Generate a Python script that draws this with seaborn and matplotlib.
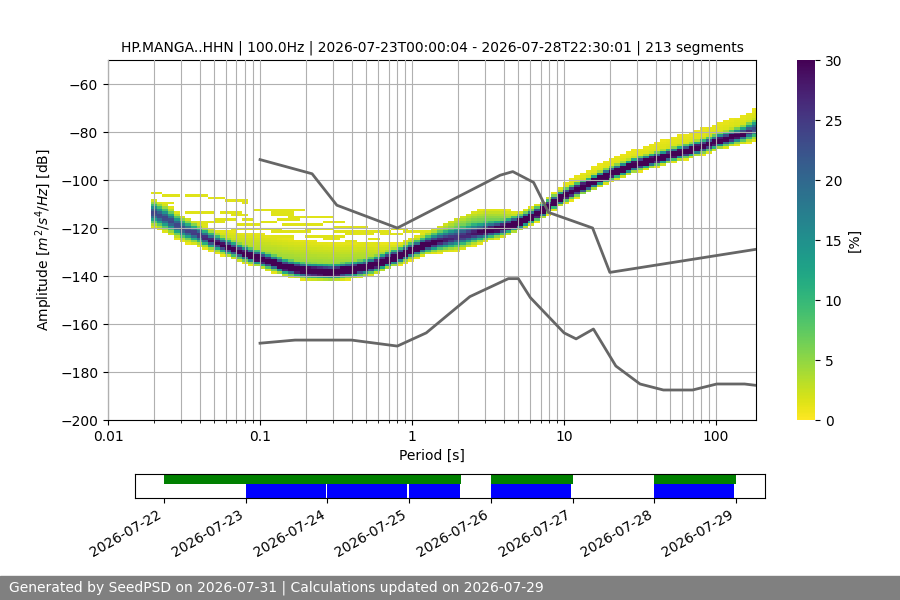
import numpy as np
import pandas as pd
import matplotlib
matplotlib.use("Agg")
import matplotlib.pyplot as plt
import matplotlib.dates as mdates
from matplotlib.ticker import FormatStrFormatter
import seaborn as sns

# ---------------- data ----------------
title = ("HP.MANGA..HHN | 100.0Hz | 2026-07-23T00:00:04 - "
         "2026-07-28T22:30:01 | 213 segments")
footer = "Generated by SeedPSD on 2026-07-31 | Calculations updated on 2026-07-29"

# PPSD histogram description (knots along period)
knot_period = [0.0195, 0.025, 0.03, 0.04, 0.05, 0.07, 0.1, 0.15, 0.2, 0.3,
               0.4, 0.5, 0.6, 0.8, 1.0, 1.2, 1.5, 2.0, 2.5, 3.0, 4.0, 5.0,
               6.2, 7.0, 9.0, 10.0, 15.0, 20.0, 30.0, 50.0, 70.0, 100.0,
               150.0, 185.0]
mode_db = [-113.5, -116.5, -120, -123, -126, -129.5, -133, -136.5, -138,
           -138.5, -137.5, -136.5, -135, -132, -129.5, -127.5, -125.7, -124,
           -122.5, -121.5, -120, -118, -115.3, -113.5, -108.5, -106.5,
           -101.5, -97.5, -93.5, -89.8, -87.5, -84.2, -81, -78.5]
peak_pct = [24, 24, 24, 26, 30, 34, 38, 40, 42, 42, 42, 42, 42, 42, 40, 36,
            30, 26, 28, 32, 38, 42, 45, 45, 48, 48, 48, 46, 46, 44, 42, 38,
            32, 22]
spread_lo = [2.4, 2.4, 2.2, 1.8, 1.6, 1.5, 1.4, 1.4, 1.4, 1.4, 1.4, 1.4, 1.4,
             1.4, 1.4, 1.5, 1.8, 2.2, 2.0, 1.7, 1.4, 1.3, 1.2, 1.2, 1.2, 1.2,
             1.2, 1.2, 1.2, 1.2, 1.2, 1.3, 1.5, 2.0]
spread_hi = [2.4, 2.4, 2.2, 2.0, 1.9, 1.8, 1.8, 1.8, 1.8, 1.8, 1.8, 1.8, 1.8,
             1.8, 1.8, 2.0, 2.4, 2.8, 2.8, 2.4, 1.9, 1.7, 1.5, 1.5, 1.4, 1.4,
             1.4, 1.4, 1.4, 1.4, 1.5, 1.6, 1.8, 2.2]
tail_top_db = [-112.5, -115.5, -117, -119, -120.5, -121.5, -122, -124,
               -125, -126, -126, -126, -126.5, -126.5, -124, -122, -119,
               -115.5, -113, -112, -112, -113.5, -113, -110.5, -104,
               -101, -95, -91.5, -87, -82.5, -80, -76.5, -73, -70]
tail_pct = [2, 2, 3, 4, 4, 5, 5, 6, 6, 6, 6, 6, 5, 5, 6, 9, 12, 13, 13, 12,
            10, 7, 4, 3, 2.5, 2.5, 2.5, 2.5, 2.5, 2.5, 2.5, 2.5, 3, 3]

# scattered low-occupancy streaks (period from, period to, dB)
streak_p0 = [0.0195, 0.0225, 0.032, 0.039, 0.045, 0.06, 0.02, 0.08, 0.02,
             0.032, 0.055, 0.062, 0.031, 0.075, 0.095, 0.12, 0.13, 0.18,
             0.1, 0.15, 0.22, 0.3, 0.25, 0.4, 0.35, 0.5, 0.45, 0.6, 0.8,
             0.12, 0.2, 1.0, 0.11, 0.12, 0.16, 0.1, 0.14, 0.26, 0.3, 0.2,
             0.45, 0.12, 0.35, 0.6, 0.7, 0.22, 0.9, 0.05, 0.07, 0.04, 0.065]
streak_p1 = [0.0225, 0.0298, 0.045, 0.045, 0.06, 0.086, 0.028, 0.086, 0.023,
             0.05, 0.074, 0.086, 0.045, 0.09, 0.13, 0.17, 0.19, 0.26, 0.14,
             0.21, 0.3, 0.42, 0.33, 0.55, 0.45, 0.62, 0.6, 0.75, 0.95,
             0.16, 0.28, 1.15, 0.2, 0.16, 0.3, 0.13, 0.25, 0.38, 0.5, 0.3,
             0.7, 0.2, 0.55, 0.9, 0.95, 0.35, 1.2, 0.07, 0.1, 0.06, 0.1]
streak_db = [-105.5, -106.5, -106.5, -106, -107.5, -108.5, -109.5, -109.5,
             -111.5, -113.5, -113.5, -114.5, -118, -116.5, -112.5, -113.5,
             -116.5, -118.5, -120.5, -121.5, -120.5, -121.5, -124.5, -122.5,
             -125.5, -124.5, -126.5, -121.5, -120.5, -123.5, -123.5, -121.5,
             -112.5, -114.5, -115.5, -117.5, -118.5, -117.5, -119.5, -120.5,
             -121.5, -121.5, -122.5, -122.5, -120.5, -123.5, -121.5,
             -116.5, -118.5, -117.5, -120.5]

# Peterson noise models
nhnm_period = [0.1, 0.22, 0.32, 0.8, 3.8, 4.6, 6.3, 7.9, 15.4, 20.0, 354.8]
nhnm_db = [-91.5, -97.4, -110.5, -120.0, -98.0, -96.5, -101.0, -113.5,
           -120.0, -138.5, -126.0]
nlnm_period = [0.1, 0.17, 0.4, 0.8, 1.24, 2.4, 4.3, 5.0, 6.0, 10.0, 12.0,
               15.6, 21.9, 31.6, 45.0, 70.0, 101.0, 154.0, 328.0]
nlnm_db = [-168.0, -166.7, -166.7, -169.2, -163.7, -148.6, -141.1, -141.1,
           -149.0, -163.7, -166.2, -162.1, -177.5, -185.0, -187.5, -187.5,
           -185.0, -185.0, -187.5]

# time coverage
green_start = ["2026-07-22 00:00", "2026-07-26 00:00", "2026-07-28 00:00"]
green_end = ["2026-07-25 15:15", "2026-07-27 00:00", "2026-07-29 00:00"]
blue_start = ["2026-07-23 00:00", "2026-07-24 00:00", "2026-07-25 00:00",
              "2026-07-26 00:00", "2026-07-28 00:00"]
blue_end = ["2026-07-23 23:30", "2026-07-24 23:30", "2026-07-25 15:00",
            "2026-07-26 23:30", "2026-07-28 23:30"]
timeline_lim = ["2026-07-21 15:30", "2026-07-29 08:30"]
timeline_ticks = ["2026-07-22", "2026-07-23", "2026-07-24", "2026-07-25",
                  "2026-07-26", "2026-07-27", "2026-07-28", "2026-07-29"]

# ---------------- build the histogram grid ----------------
n_cols = 106
centers = 0.02 * 2.0 ** (np.arange(n_cols) / 8.0)
edges_p = 0.02 * 2.0 ** ((np.arange(n_cols + 1) - 0.5) / 8.0)
db_edges = np.arange(-200, -49, 1.0)
db_c = db_edges[:-1] + 0.5

lk = np.log10(knot_period)
lc = np.log10(centers)
def at(arr):
    return np.interp(lc, lk, arr)
m, pk, slo, shi, top, tl = (at(mode_db), at(peak_pct), at(spread_lo),
                            at(spread_hi), at(tail_top_db), at(tail_pct))

hist = np.zeros((len(db_c), n_cols))
for j in range(n_cols):
    d = db_c - m[j]
    s = np.where(d > 0, shi[j], slo[j])
    core = pk[j] * np.exp(-0.5 * (d / s) ** 2)
    tail = np.zeros_like(core)
    span = max(top[j] - m[j], 0.5)
    inside = (d > 0) & (db_c <= top[j])
    tail[inside] = 1 + (tl[j] - 1) * (1 - d[inside] / span)
    hist[:, j] = np.maximum(core, tail)
for p0, p1, dbv in zip(streak_p0, streak_p1, streak_db):
    cols = (centers >= p0) & (centers <= p1)
    row = np.argmin(np.abs(db_c - dbv))
    hist[row, cols] = np.maximum(hist[row, cols], 1.5)
hist = np.ma.masked_less(hist, 0.8)

# ---------------- figure ----------------
fig = plt.figure(figsize=(9, 6), dpi=100)
ax = fig.add_axes([0.12, 0.30, 0.72, 0.60])
cax = fig.add_axes([0.8856, 0.30, 0.02, 0.60])
tax = fig.add_axes([0.15, 0.17, 0.70, 0.04])

cmap = plt.get_cmap("viridis_r").copy()
cmap.set_bad("white")
mesh = ax.pcolormesh(edges_p, db_edges, hist, cmap=cmap, vmin=0, vmax=30,
                     zorder=1)
ax.set_xscale("log")
ax.grid(True, which="major", color="#b0b0b0", lw=0.8, zorder=2)
ax.grid(True, which="minor", axis="x", color="#b0b0b0", lw=0.8, zorder=2)
ax.set_axisbelow(False)

nhnm = pd.DataFrame({"period": nhnm_period, "db": nhnm_db})
nlnm = pd.DataFrame({"period": nlnm_period, "db": nlnm_db})
for df in (nhnm, nlnm):
    sns.lineplot(data=df, x="period", y="db", ax=ax, color="0.4", lw=2,
                 sort=False, estimator=None, zorder=3)
ax.set_xlim(0.01, 183)
ax.set_ylim(-200, -50)
ax.set_xticks([0.01, 0.1, 1, 10, 100])
ax.xaxis.set_major_formatter(FormatStrFormatter("%g"))
ax.set_yticks(np.arange(-200, -50, 20))
ax.set_xlabel("Period [s]", fontsize=10)
ax.set_ylabel("Amplitude [$m^2/s^4/Hz$] [dB]", fontsize=10)
ax.set_title(title, fontsize=10)

cb = fig.colorbar(mesh, cax=cax)
cb.set_label("[%]", fontsize=10)
cb.set_ticks([0, 5, 10, 15, 20, 25, 30])
cb.outline.set_visible(False)

for s, e in zip(green_start, green_end):
    tax.axvspan(pd.Timestamp(s), pd.Timestamp(e), ymin=0.6, ymax=1.0,
                color="green", lw=0)
for s, e in zip(blue_start, blue_end):
    tax.axvspan(pd.Timestamp(s), pd.Timestamp(e), ymin=0.0, ymax=0.6,
                color="blue", lw=0)
tax.set_xlim(pd.Timestamp(timeline_lim[0]), pd.Timestamp(timeline_lim[1]))
tax.set_yticks([])
tax.set_xticks([pd.Timestamp(t) for t in timeline_ticks])
tax.xaxis.set_major_formatter(mdates.DateFormatter("%Y-%m-%d"))
for lab in tax.get_xticklabels():
    lab.set_rotation(30)
    lab.set_ha("right")

fig.patches.append(plt.Rectangle((0, 0), 1, 0.04, transform=fig.transFigure,
                                 color="#808080", zorder=0))
fig.text(0.01, 0.02, footer, color="white", fontsize=10, va="center",
         ha="left")

fig.savefig("out.png", dpi=100)
